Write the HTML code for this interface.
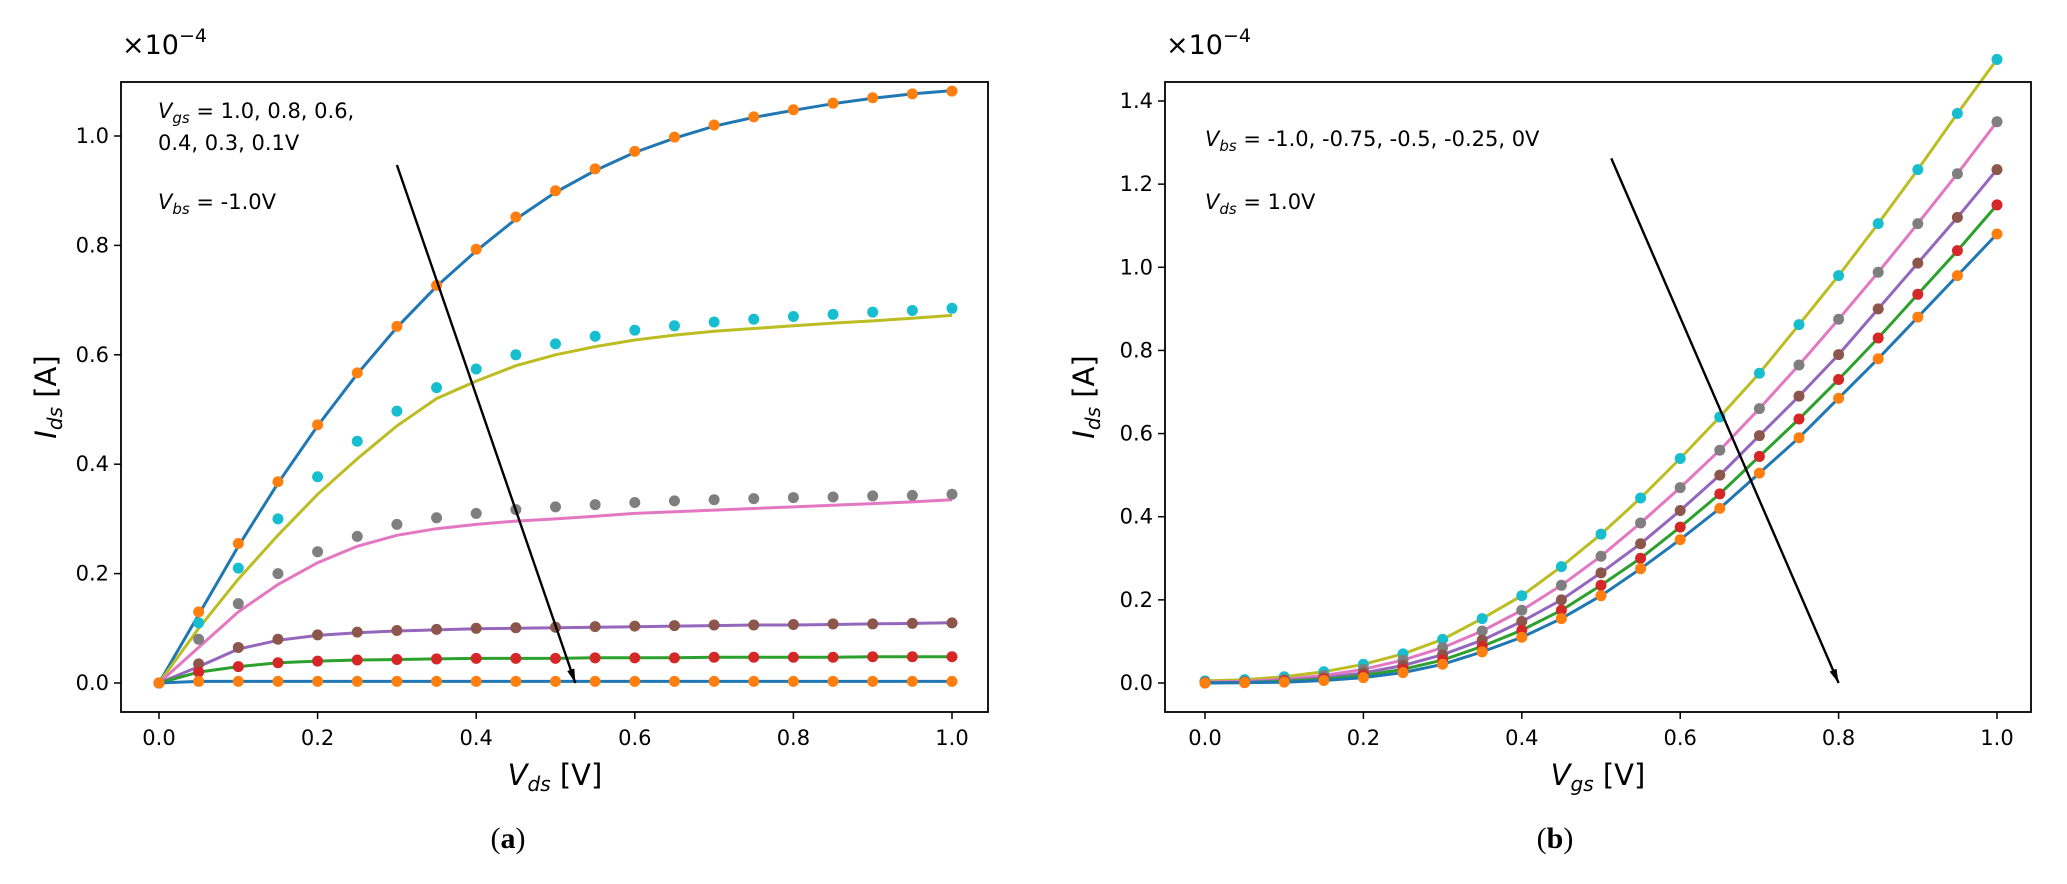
<!DOCTYPE html>
<html><head><meta charset="utf-8"><style>
html,body{margin:0;padding:0;background:#fff;}
svg{display:block;font-family:"DejaVu Sans","Liberation Sans",sans-serif;}
</style></head><body>
<svg id="fig" width="2067" height="884" viewBox="0 0 2067 884">
<defs><marker id="ah" markerWidth="14" markerHeight="26" refX="26" refY="7" orient="auto" markerUnits="userSpaceOnUse" viewBox="0 0 26 14"><path d="M0,0 L26,7 L0,14 z" fill="#000"/></marker></defs>
</svg>
<script>
// ---- Panel (a) data: Ids vs Vds ----
const xA = [0,0.05,0.1,0.15,0.2,0.25,0.3,0.35,0.4,0.45,0.5,0.55,0.6,0.65,0.7,0.75,0.8,0.85,0.9,0.95,1.0];
const aDots10 = [0,0.13,0.255,0.368,0.472,0.567,0.652,0.727,0.793,0.852,0.9,0.94,0.972,0.998,1.02,1.035,1.048,1.06,1.07,1.077,1.082];
const aLine10 = [0,0.125,0.25,0.365,0.47,0.565,0.65,0.725,0.79,0.848,0.897,0.937,0.97,0.996,1.018,1.034,1.047,1.059,1.069,1.077,1.083];
const aDots08 = [0,0.11,0.21,0.30,0.377,0.442,0.497,0.54,0.574,0.6,0.62,0.634,0.645,0.653,0.66,0.665,0.67,0.674,0.678,0.681,0.685];
const aLine08 = [0,0.1,0.19,0.27,0.345,0.41,0.47,0.52,0.552,0.58,0.6,0.615,0.627,0.636,0.643,0.648,0.653,0.658,0.662,0.667,0.672];
const aDots06 = [0,0.08,0.145,0.2,0.24,0.268,0.29,0.302,0.31,0.317,0.322,0.326,0.33,0.333,0.335,0.337,0.339,0.34,0.342,0.343,0.345];
const aLine06 = [0,0.065,0.13,0.18,0.22,0.25,0.27,0.282,0.29,0.296,0.30,0.305,0.31,0.313,0.316,0.319,0.322,0.325,0.328,0.331,0.335];
const aDots04 = [0,0.035,0.065,0.08,0.088,0.093,0.096,0.098,0.1,0.101,0.102,0.103,0.104,0.105,0.106,0.106,0.107,0.108,0.108,0.109,0.11];
const aLine04 = [0,0.03,0.062,0.078,0.087,0.092,0.095,0.097,0.099,0.1,0.101,0.102,0.103,0.104,0.105,0.106,0.106,0.107,0.108,0.109,0.11];
const aDots03 = [0,0.02,0.03,0.037,0.04,0.042,0.043,0.044,0.045,0.045,0.045,0.046,0.046,0.046,0.047,0.047,0.047,0.047,0.048,0.048,0.048];
const aDots01 = [0,0.003,0.003,0.003,0.003,0.003,0.003,0.003,0.003,0.003,0.003,0.003,0.003,0.003,0.003,0.003,0.003,0.003,0.003,0.003,0.003];
const aXTicks = ["0.0","0.2","0.4","0.6","0.8","1.0"];
const aYTicks = ["0.0","0.2","0.4","0.6","0.8","1.0"];
// ---- Panel (b) data: Ids vs Vgs ----
const xB = [0,0.05,0.1,0.15,0.2,0.25,0.3,0.35,0.4,0.45,0.5,0.55,0.6,0.65,0.7,0.75,0.8,0.85,0.9,0.95,1.0];
const bVbs0 = [0.005,0.008,0.015,0.027,0.045,0.07,0.105,0.155,0.21,0.28,0.358,0.445,0.54,0.64,0.745,0.862,0.98,1.105,1.235,1.37,1.50];
const bVbs025 = [0.002,0.004,0.009,0.018,0.033,0.055,0.085,0.125,0.175,0.235,0.305,0.385,0.47,0.56,0.66,0.765,0.875,0.988,1.105,1.225,1.35];
const bVbs05 = [0.001,0.002,0.006,0.012,0.024,0.042,0.068,0.103,0.148,0.2,0.265,0.335,0.415,0.5,0.595,0.69,0.79,0.9,1.01,1.12,1.235];
const bVbs075 = [0,0.001,0.004,0.009,0.018,0.033,0.055,0.088,0.127,0.175,0.235,0.3,0.375,0.455,0.545,0.635,0.73,0.83,0.935,1.04,1.15];
const bVbs1 = [0,0.001,0.002,0.006,0.013,0.025,0.045,0.075,0.11,0.155,0.21,0.275,0.345,0.42,0.505,0.59,0.685,0.78,0.88,0.98,1.08];
const bXTicks = ["0.0","0.2","0.4","0.6","0.8","1.0"];
const bYTicks = ["0.0","0.2","0.4","0.6","0.8","1.0","1.2","1.4"];

const NS="http://www.w3.org/2000/svg";
const svg=document.getElementById('fig');
function mk(tag,attrs,parent){const e=document.createElementNS(NS,tag);for(const k in attrs)e.setAttribute(k,attrs[k]);(parent||svg).appendChild(e);return e;}

function panel(p){
  const g=mk('g',{});
  
  
  const sx=v=>p.x0+(v-p.xmin)/(p.xmax-p.xmin)*(p.x1-p.x0);
  const sy=v=>p.y0-(v-p.ymin)/(p.ymax-p.ymin)*(p.y0-p.y1);
  p.series.forEach(s=>{
    const pts=s.line.map((v,i)=>sx(s.x[i]).toFixed(1)+','+sy(v).toFixed(1)).join(' ');
    const pl=mk('polyline',{points:pts,fill:'none',stroke:s.lc,'stroke-width':3},g);
    
    
    s.dots.forEach((v,i)=>{
      const c=mk('circle',{cx:sx(s.x[i]),cy:sy(v),r:5.5,fill:s.dc},g);
      
      
    });
  });
  const fr=mk('rect',{x:p.fx0,y:p.fy0,width:p.fx1-p.fx0,height:p.fy1-p.fy0,fill:'none',stroke:'#000','stroke-width':1.8},g);
  
  
  p.xt.forEach(t=>{const X=sx(parseFloat(t));
    mk('line',{x1:X,x2:X,y1:p.fy1,y2:p.fy1+7,stroke:'#000','stroke-width':1.5},g);
    const tx=mk('text',{x:X,y:p.fy1+33,'text-anchor':'middle','font-size':21},g);tx.textContent=t;
    
    
  });
  p.yt.forEach(t=>{const Y=sy(parseFloat(t));
    mk('line',{x1:p.fx0-7,x2:p.fx0,y1:Y,y2:Y,stroke:'#000','stroke-width':1.5},g);
    const tx=mk('text',{x:p.fx0-12,y:Y+7,'text-anchor':'end','font-size':21},g);tx.textContent=t;
    
    
  });
  const ar=mk('line',{x1:sx(p.arrow[0]),y1:sy(p.arrow[1]),x2:sx(p.arrow[2]),y2:sy(p.arrow[3]),stroke:'#000','stroke-width':2.4,'marker-end':'url(#ah)'},g);
  
  
  return g;
}

panel({name:'panel-a',x0:159,x1:952,xmin:0,xmax:1,y0:683,y1:136,ymin:0,ymax:1,fx0:121,fx1:988,fy0:82,fy1:712,
  xt:aXTicks,yt:aYTicks,arrow:[0.30,0.947,0.525,0],
  series:[
    {id:'vgs-1.0',x:xA,line:aLine10,dots:aDots10,lc:'#1f77b4',dc:'#ff7f0e'},
    {id:'vgs-0.8',x:xA,line:aLine08,dots:aDots08,lc:'#bcbd22',dc:'#17becf'},
    {id:'vgs-0.6',x:xA,line:aLine06,dots:aDots06,lc:'#e377c2',dc:'#7f7f7f'},
    {id:'vgs-0.4',x:xA,line:aLine04,dots:aDots04,lc:'#9467bd',dc:'#8c564b'},
    {id:'vgs-0.3',x:xA,line:aDots03,dots:aDots03,lc:'#2ca02c',dc:'#d62728'},
    {id:'vgs-0.1',x:xA,line:aDots01,dots:aDots01,lc:'#1f77b4',dc:'#ff7f0e'}]});
panel({name:'panel-b',x0:1205,x1:1997,xmin:0,xmax:1,y0:683,y1:101,ymin:0,ymax:1.4,fx0:1165,fx1:2031,fy0:82,fy1:712,
  xt:bXTicks,yt:bYTicks,arrow:[0.513,1.262,0.8,0],
  series:[
    {id:'vbs-0',x:xB,line:bVbs0,dots:bVbs0,lc:'#bcbd22',dc:'#17becf'},
    {id:'vbs-0.25',x:xB,line:bVbs025,dots:bVbs025,lc:'#e377c2',dc:'#7f7f7f'},
    {id:'vbs-0.5',x:xB,line:bVbs05,dots:bVbs05,lc:'#9467bd',dc:'#8c564b'},
    {id:'vbs-0.75',x:xB,line:bVbs075,dots:bVbs075,lc:'#2ca02c',dc:'#d62728'},
    {id:'vbs-1.0',x:xB,line:bVbs1,dots:bVbs1,lc:'#1f77b4',dc:'#ff7f0e'}]});
</script>
<svg width="2067" height="884" viewBox="0 0 2067 884" style="position:absolute;left:0;top:0;font-family:'DejaVu Sans','Liberation Sans',sans-serif;">
  <text x="122" y="54" font-size="27">×10<tspan dy="-12" font-size="19">−4</tspan></text>
  <text x="1166" y="54" font-size="27">×10<tspan dy="-12" font-size="19">−4</tspan></text>
  <text x="158" y="118" font-size="21"><tspan font-style="italic">V</tspan><tspan font-style="italic" font-size="15" dy="5">gs</tspan><tspan dy="-5"> = 1.0, 0.8, 0.6,</tspan></text>
  <text x="158" y="150" font-size="21">0.4, 0.3, 0.1V</text>
  <text x="158" y="209" font-size="21"><tspan font-style="italic">V</tspan><tspan font-style="italic" font-size="15" dy="5">bs</tspan><tspan dy="-5"> = -1.0V</tspan></text>
  <text x="1205" y="146" font-size="21"><tspan font-style="italic">V</tspan><tspan font-style="italic" font-size="15" dy="5">bs</tspan><tspan dy="-5"> = -1.0, -0.75, -0.5, -0.25, 0V</tspan></text>
  <text x="1205" y="209" font-size="21"><tspan font-style="italic">V</tspan><tspan font-style="italic" font-size="15" dy="5">ds</tspan><tspan dy="-5"> = 1.0V</tspan></text>
  <text x="555" y="785" font-size="29" text-anchor="middle"><tspan font-style="italic">V</tspan><tspan font-style="italic" font-size="20" dy="6">ds</tspan><tspan dy="-6"> [V]</tspan></text>
  <text x="1598" y="785" font-size="29" text-anchor="middle"><tspan font-style="italic">V</tspan><tspan font-style="italic" font-size="20" dy="6">gs</tspan><tspan dy="-6"> [V]</tspan></text>
  <text transform="translate(56,397) rotate(-90)" font-size="29" text-anchor="middle"><tspan font-style="italic">I</tspan><tspan font-style="italic" font-size="20" dy="6">ds</tspan><tspan dy="-6"> [A]</tspan></text>
  <text transform="translate(1094,397) rotate(-90)" font-size="29" text-anchor="middle"><tspan font-style="italic">I</tspan><tspan font-style="italic" font-size="20" dy="6">ds</tspan><tspan dy="-6"> [A]</tspan></text>
  <text x="508" y="848" font-size="30" text-anchor="middle" font-family="Liberation Serif, serif">(<tspan font-weight="bold">a</tspan>)</text>
  <text x="1555" y="848" font-size="30" text-anchor="middle" font-family="Liberation Serif, serif">(<tspan font-weight="bold">b</tspan>)</text>
</svg>
</body></html>
